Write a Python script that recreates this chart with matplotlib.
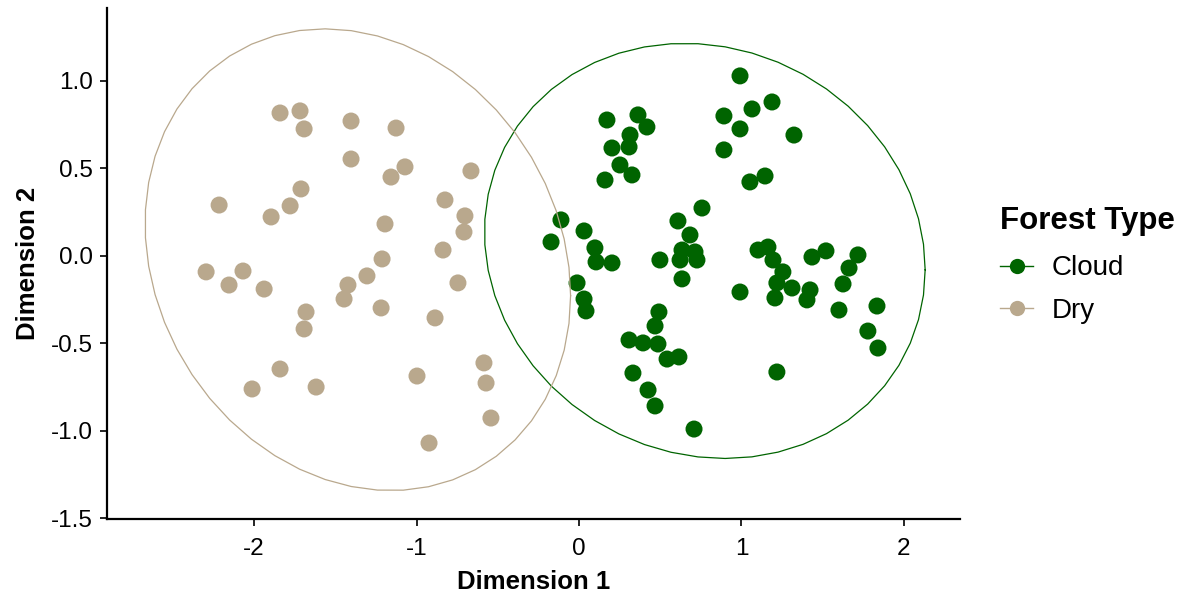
import numpy as np
import matplotlib
matplotlib.use("Agg")
import matplotlib.pyplot as plt
from matplotlib.lines import Line2D

plt.rcParams['font.family'] = ['Liberation Sans', 'DejaVu Sans']

# ---------------- data ----------------
dry_x = [-1.840, -1.717, -1.692, -1.403, -1.126, -1.403, -1.071, -1.157, -1.711, -1.778,
         -1.895, -2.215, -1.194, -1.212, -1.305, -1.422, -2.295, -2.068, -2.154, -1.938,
         -1.680, -1.692, -1.446, -1.218, -1.840, -2.012, -1.618, -0.665, -0.825, -0.702,
         -0.708, -0.837, -0.745, -0.886, -0.585, -0.572, -0.997, -0.542, -0.923]
dry_y = [0.817, 0.829, 0.726, 0.771, 0.731, 0.554, 0.509, 0.451, 0.383, 0.286,
         0.223, 0.291, 0.183, -0.017, -0.114, -0.166, -0.091, -0.086, -0.166, -0.189,
         -0.320, -0.417, -0.246, -0.297, -0.646, -0.760, -0.749, 0.486, 0.320, 0.229,
         0.137, 0.034, -0.154, -0.354, -0.611, -0.726, -0.686, -0.926, -1.069]

cloud_x = [0.991, 1.188, 1.065, 0.892, 0.991, 1.323, 0.892, 1.052, 1.145, 0.172,
           0.363, 0.418, 0.314, 0.308, 0.203, 0.252, 0.326, 0.160, -0.111, 0.031,
           -0.172, 0.098, 0.105, 0.203, -0.012, 0.031, 0.043, 0.757, 0.609, 0.683,
           0.634, 0.714, 0.622, 0.726, 0.498, 0.634, 0.492, 0.468, 0.308, 0.394,
           0.486, 0.542, 0.615, 0.332, 0.425, 0.468, 0.708, 1.102, 1.163, 1.194,
           1.255, 1.218, 1.311, 1.422, 1.403, 1.206, 0.991, 1.434, 1.520, 1.717,
           1.662, 1.625, 1.600, 1.834, 1.778, 1.840, 1.218]
cloud_y = [1.029, 0.880, 0.840, 0.800, 0.726, 0.691, 0.606, 0.423, 0.457, 0.777,
           0.806, 0.737, 0.691, 0.623, 0.617, 0.520, 0.463, 0.434, 0.206, 0.143,
           0.080, 0.046, -0.034, -0.040, -0.154, -0.246, -0.314, 0.274, 0.200, 0.120,
           0.034, 0.023, -0.023, -0.023, -0.023, -0.131, -0.320, -0.400, -0.480, -0.497,
           -0.503, -0.589, -0.577, -0.669, -0.766, -0.857, -0.989, 0.034, 0.051, -0.023,
           -0.091, -0.154, -0.183, -0.194, -0.251, -0.240, -0.206, -0.006, 0.029, 0.006,
           -0.069, -0.160, -0.309, -0.286, -0.429, -0.526, -0.663]

groups = ["Cloud", "Dry"]
colors = {"Cloud": "#006400", "Dry": "#B9A88D"}
x_ticks = [-2, -1, 0, 1, 2]
y_ticks = [-1.5, -1.0, -0.5, 0.0, 0.5, 1.0]


# ---------------- stat_ellipse (type = "norm", level = 0.95) ----------------
def ellipse_path(xs, ys, level=0.95, segments=51):
    data = np.column_stack([xs, ys])
    n = len(xs)
    dfn, dfd = 2, n - 1
    center = data.mean(axis=0)
    shape = np.cov(data, rowvar=False)
    # F quantile with dfn = 2 has a closed form
    qf = (dfd / 2.0) * ((1 - level) ** (-2.0 / dfd) - 1)
    radius = np.sqrt(dfn * qf)
    ang = np.linspace(0, 2 * np.pi, segments + 1)
    unit = np.column_stack([np.cos(ang), np.sin(ang)])
    chol = np.linalg.cholesky(shape).T  # upper triangular like R's chol
    pts = center + radius * (unit @ chol)
    return pts[:, 0], pts[:, 1]


# ---------------- plot ----------------
fig = plt.figure(figsize=(11.89, 5.97), dpi=100)
ax = fig.add_axes([107 / 1189, 1 - 519 / 597, (960 - 107) / 1189, (519 - 8) / 597])

series = {"Cloud": (cloud_x, cloud_y), "Dry": (dry_x, dry_y)}
for g in groups:
    xs, ys = series[g]
    ax.scatter(xs, ys, s=150, color=colors[g], edgecolors='none', zorder=2)
for g in groups:
    xs, ys = series[g]
    ex, ey = ellipse_path(xs, ys)
    ax.plot(ex, ey, color=colors[g], lw=0.9, zorder=3)

ax.set_xlim(-2.905, 2.345)
ax.set_ylim(-1.503, 1.417)
ax.set_xticks(x_ticks)
ax.set_xticklabels([f"{t:g}" for t in x_ticks])
ax.set_yticks(y_ticks)
ax.set_yticklabels([f"{t:.1f}" for t in y_ticks])
ax.tick_params(axis='both', labelsize=17.5, length=5, width=1.2, colors='black', pad=5)
ax.tick_params(axis='x', pad=9)
for s in ['top', 'right']:
    ax.spines[s].set_visible(False)
for s in ['left', 'bottom']:
    ax.spines[s].set_linewidth(1.6)
    ax.spines[s].set_color('black')

ax.set_xlabel("Dimension 1", fontsize=18.5, fontweight='bold', labelpad=7)
ax.set_ylabel("Dimension 2", fontsize=18.5, fontweight='bold', labelpad=8)

handles = [Line2D([0], [0], color=colors[g], lw=1, marker='o', markersize=11,
                  markeredgewidth=0) for g in groups]
leg = fig.legend(handles, groups, loc='upper left', bbox_to_anchor=(975 / 1189, 1 - 181 / 597),
                 frameon=False, fontsize=20, title="Forest Type",
                 title_fontproperties={'weight': 'bold', 'size': 22.5},
                 handlelength=1.2, handletextpad=0.65, labelspacing=0.58)
leg._legend_box.align = "left"
leg._legend_box.sep = 14

fig.savefig("out.png", dpi=100)
